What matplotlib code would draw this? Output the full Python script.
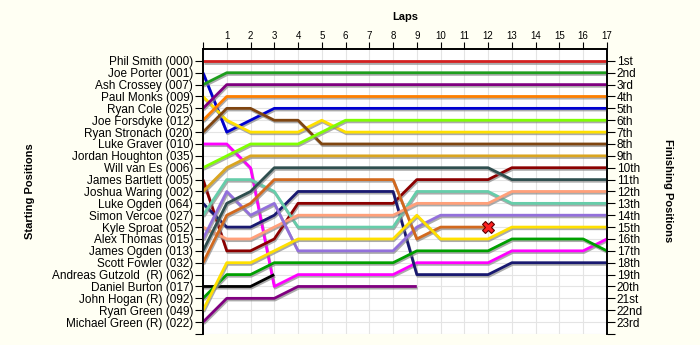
import matplotlib
matplotlib.use("Agg")
import matplotlib.pyplot as plt
import matplotlib.patheffects as pe

plt.rcParams["font.family"] = ["Liberation Sans", "DejaVu Sans"]

laps = list(range(0, 18))

drivers = [
    "Phil Smith (000)", "Joe Porter (001)", "Ash Crossey (007)", "Paul Monks (009)",
    "Ryan Cole (025)", "Joe Forsdyke (012)", "Ryan Stronach (020)", "Luke Graver (010)",
    "Jordan Houghton (035)", "Will van Es (006)", "James Bartlett (005)",
    "Joshua Waring (002)", "Luke Ogden (064)", "Simon Vercoe (027)", "Kyle Sproat (052)",
    "Alex Thomas (015)", "James Ogden (013)", "Scott Fowler (032)",
    "Andreas Gutzold  (R) (062)", "Daniel Burton (017)", "John Hogan (R) (092)",
    "Ryan Green (049)", "Michael Green (R) (022)",
]

finish_labels = [
    "1st", "2nd", "3rd", "4th", "5th", "6th", "7th", "8th", "9th", "10th", "11th",
    "12th", "13th", "14th", "15th", "16th", "17th", "18th", "19th", "20th", "21st",
    "22nd", "23rd",
]

# position at the end of each lap, index 0 = grid slot; None = did not start
positions = [
    [1] * 18,
    [2, 7, 6] + [5] * 15,
    [3] + [2] * 17,
    [4, 6, 7, 7, 7, 6] + [7] * 12,
    [5] + [3] * 17,
    [6] + [4] * 17,
    [7, 5, 5, 6, 6] + [8] * 13,
    [8, 8, 10, 20, 19, 19, 19, 19, 19, 18, 18, 18, 18, 17, 17, 17, 17, 16],
    None,
    [10, 9, 8, 8, 8, 7] + [6] * 12,
    [11, 17, 17, 16, 13, 13, 13, 13, 13, 11, 11, 11, 11, 10, 10, 10, 10, 10],
    [12, 10] + [9] * 16,
    [13, 15, 15, 14, 12, 12, 12, 12, 12, 19, 19, 19, 19, 18, 18, 18, 18, 18],
    [14, 11, 11, 12, 15, 15, 15, 15, 15, 12, 12, 12, 12, 13, 13, 13, 13, 13],
    [15, 16, 16, 15, 14, 14, 14, 14, 14, 13, 13, 13, 13, 12, 12, 12, 12, 12],
    [16, 12, 14, 13, 17, 17, 17, 17, 17, 15, 14, 14, 14, 14, 14, 14, 14, 14],
    [17, 13, 12, 10, 10, 10, 10, 10, 10, 10, 10, 10, 10, 11, 11, 11, 11, 11],
    [18, 14, 13, 11, 11, 11, 11, 11, 11, 16, 15, 15, 15],
    None,
    [20, 20, 20, 19],
    [21, 19, 19, 18, 18, 18, 18, 18, 18, 17, 17, 17, 17, 16, 16, 16, 16, 17],
    [22, 18, 18, 17, 16, 16, 16, 16, 16, 14, 16, 16, 16, 15, 15, 15, 15, 15],
    [23, 21, 21, 21, 20, 20, 20, 20, 20, 20],
]

colors = [
    "#D42020", "#0000D0", "#1E9E1E", "#FFE000", "#800080", "#FF7F00", "#7F4510",
    "#FF00FF", None, "#80FF00", "#8B0000", "#DAA520", "#191970", "#66CDAA",
    "#FFA07A", "#9370DB", "#2F4F4F", "#D2691E", None, "#000000", "#00A000",
    "#FFE000", "#800080",
]

# retired with a crash marker
crashed = ["Scott Fowler (032)"]

fig = plt.figure(figsize=(7, 3.45), dpi=100, facecolor="#FFFFF3")
ax = fig.add_axes([0.29, 0.032, 0.577, 0.826])
ax.set_facecolor("white")

shadow = [pe.SimpleLineShadow(offset=(0.6, -1.2), shadow_color="#888888", alpha=0.7),
          pe.Normal()]

for name, pos, col in zip(drivers, positions, colors):
    if pos is None:
        continue
    ax.plot(laps[:len(pos)], pos, color=col, lw=2.0, solid_capstyle="butt",
            path_effects=shadow, zorder=3)
    if name in crashed:
        ax.plot(laps[len(pos) - 1], pos[-1], marker="X", ms=8, mfc="#FF2020",
                mec="#600000", mew=0.8, zorder=5)

ax.set_xlim(0, 17)
ax.set_ylim(24, 0)

ax.xaxis.tick_top()
ax.set_xticks(laps)
ax.set_xticklabels([""] + [str(l) for l in laps[1:]], fontsize=7)
ax.tick_params(axis="x", direction="out", length=5, pad=1, colors="black")

yt = list(range(1, 25))
ax.set_yticks(yt)
ax.set_yticklabels(drivers + [""], fontsize=8.5)
ax.tick_params(axis="y", direction="out", length=6, pad=1)

ax2 = ax.twinx()
ax2.set_ylim(24, 0)
ax2.set_yticks(yt)
ax2.set_yticklabels(finish_labels + [""], fontsize=8.5)
ax2.tick_params(axis="y", direction="out", length=6, pad=1)

for a in (ax, ax2):
    a.spines["bottom"].set_visible(False)
    for s in ("left", "right", "top"):
        a.spines[s].set_linewidth(1.2)

ax.grid(True, color="#E4E4E4", lw=0.8, zorder=0)
ax.set_axisbelow(True)

fig.text(405 / 700, 1 - 17 / 345, "Laps", ha="center", va="center",
         fontsize=8, fontweight="bold")
fig.text(30 / 700, 1 - 191 / 345, "Starting Positions", ha="center", va="center",
         rotation=90, fontsize=8, fontweight="bold")
fig.text(668 / 700, 1 - 191 / 345, "Finishing Positions", ha="center", va="center",
         rotation=-90, fontsize=8, fontweight="bold")

fig.savefig("out.png", dpi=100, facecolor=fig.get_facecolor())
